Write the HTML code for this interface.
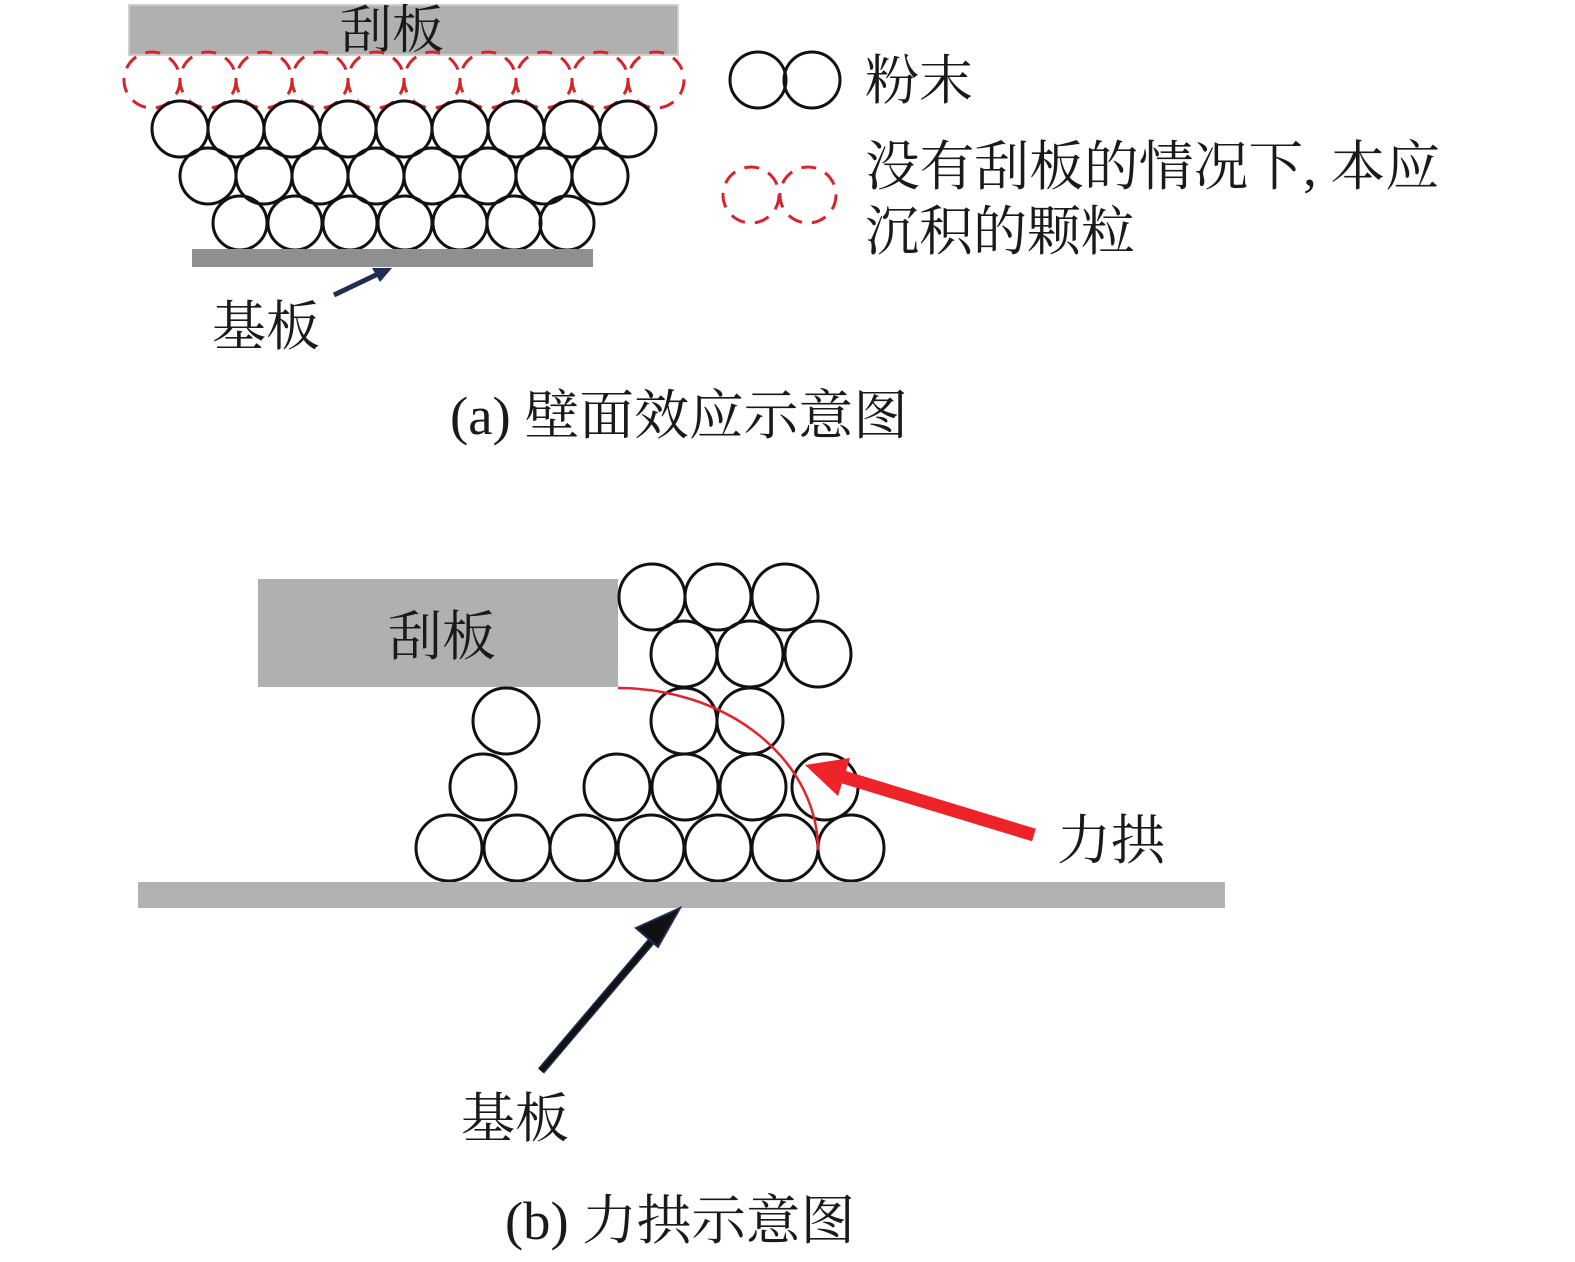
<!DOCTYPE html>
<html><head><meta charset="utf-8"><style>
html,body{margin:0;padding:0;background:#fff;}
svg{display:block;}
text{font-family:"Liberation Serif","Noto Serif CJK SC",serif;fill:#1a1a1a;}
</style></head><body>
<svg width="1575" height="1262" viewBox="0 0 1575 1262" xmlns="http://www.w3.org/2000/svg">
<!-- (a) -->
<rect x="129" y="5" width="549" height="50" fill="#b0b0b0" stroke="#cfcfcf" stroke-width="2"/>
<text x="392" y="48" font-size="52" text-anchor="middle">刮板</text>
<g fill="none" stroke="#d9232c" stroke-width="3" stroke-dasharray="15,10">
<circle cx="152" cy="80" r="28"/><circle cx="208" cy="80" r="28"/><circle cx="264" cy="80" r="28"/><circle cx="320" cy="80" r="28"/><circle cx="376" cy="80" r="28"/><circle cx="432" cy="80" r="28"/><circle cx="488" cy="80" r="28"/><circle cx="544" cy="80" r="28"/><circle cx="600" cy="80" r="28"/><circle cx="656" cy="80" r="28"/>
</g>
<g fill="none" stroke="#111" stroke-width="3">
<circle cx="180" cy="129" r="28"/><circle cx="236" cy="129" r="28"/><circle cx="292" cy="129" r="28"/><circle cx="348" cy="129" r="28"/><circle cx="404" cy="129" r="28"/><circle cx="460" cy="129" r="28"/><circle cx="516" cy="129" r="28"/><circle cx="572" cy="129" r="28"/><circle cx="628" cy="129" r="28"/>
<circle cx="208" cy="176" r="28"/><circle cx="264" cy="176" r="28"/><circle cx="320" cy="176" r="28"/><circle cx="376" cy="176" r="28"/><circle cx="432" cy="176" r="28"/><circle cx="488" cy="176" r="28"/><circle cx="544" cy="176" r="28"/><circle cx="600" cy="176" r="28"/>
<circle cx="240" cy="223" r="27"/><circle cx="295" cy="223" r="27"/><circle cx="350" cy="223" r="27"/><circle cx="405" cy="223" r="27"/><circle cx="460" cy="223" r="27"/><circle cx="514" cy="223" r="27"/><circle cx="567" cy="223" r="27"/>
</g>
<rect x="192" y="249" width="401" height="18" fill="#8f8f8f"/>
<line x1="334" y1="295" x2="380" y2="273" stroke="#1f2d55" stroke-width="5"/>
<path d="M392,268 L372,268 L380,282 z" fill="#1f2d55"/>
<text x="212" y="345" font-size="54">基板</text>
<!-- legend -->
<g fill="none" stroke="#111" stroke-width="3"><circle cx="758" cy="80" r="28"/><circle cx="812" cy="80" r="28"/></g>
<text x="865" y="99" font-size="54">粉末</text>
<g fill="none" stroke="#d9232c" stroke-width="3" stroke-dasharray="15,10"><circle cx="751" cy="195" r="28"/><circle cx="808" cy="195" r="28"/></g>
<text x="865" y="185" font-size="54" textLength="575" lengthAdjust="spacingAndGlyphs">没有刮板的情况下, 本应</text>
<text x="865" y="250" font-size="54">沉积的颗粒</text>
<text x="450" y="434" font-size="54" textLength="458" lengthAdjust="spacingAndGlyphs">(a) 壁面效应示意图</text>
<!-- (b) -->
<rect x="258" y="579" width="360" height="108" fill="#b0b0b0"/>
<text x="442" y="655" font-size="54" text-anchor="middle">刮板</text>
<g fill="none" stroke="#111" stroke-width="3">
<circle cx="449" cy="848" r="33"/><circle cx="517" cy="848" r="33"/><circle cx="583" cy="848" r="33"/><circle cx="651" cy="848" r="33"/><circle cx="718" cy="848" r="33"/><circle cx="785" cy="848" r="33"/><circle cx="851" cy="848" r="33"/>
<circle cx="483" cy="787" r="33"/><circle cx="617" cy="787" r="33"/><circle cx="685" cy="787" r="33"/><circle cx="753" cy="787" r="33"/><circle cx="825" cy="787" r="33"/>
<circle cx="506" cy="721" r="33"/><circle cx="684" cy="721" r="33"/><circle cx="750" cy="721" r="33"/>
<circle cx="684" cy="654" r="33"/><circle cx="750" cy="654" r="33"/><circle cx="818" cy="654" r="33"/>
<circle cx="652" cy="597" r="33"/><circle cx="718" cy="597" r="33"/><circle cx="785" cy="597" r="33"/>
</g>
<path d="M618,688 A200,162 0 0 1 818,850" fill="none" stroke="#e3232b" stroke-width="2.5"/>
<line x1="1034" y1="835" x2="840" y2="776" stroke="#ee2229" stroke-width="13"/>
<path d="M805,765 L850,758 L838,796 z" fill="#ee2229"/>
<text x="1057" y="859" font-size="54">力拱</text>
<rect x="138" y="882" width="1087" height="26" fill="#b2b2b2"/>
<line x1="541" y1="1071" x2="660" y2="931" stroke="#1f2d55" stroke-width="8"/>
<line x1="541" y1="1071" x2="660" y2="931" stroke="#111" stroke-width="5"/>
<path d="M680,908 L636,928 L658,947 z" fill="#111" stroke="#1f2d55" stroke-width="2"/>
<text x="461" y="1137" font-size="54">基板</text>
<text x="505" y="1239" font-size="54" textLength="350" lengthAdjust="spacingAndGlyphs">(b) 力拱示意图</text>
</svg>
</body></html>
